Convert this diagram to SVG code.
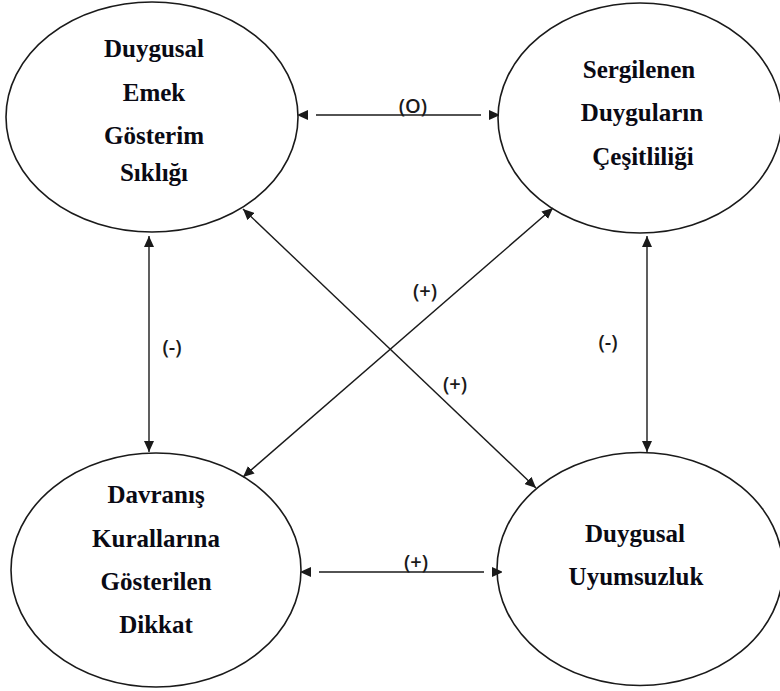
<svg xmlns="http://www.w3.org/2000/svg" width="780" height="691" viewBox="0 0 780 691">
<defs>
<style>
.node ellipse{fill:#fff;stroke:#1a1a1a;stroke-width:1.6}
.node text{font-family:'Liberation Serif','Times New Roman',serif;font-weight:bold;font-size:25px;fill:#0a0a14;text-anchor:middle}
.conn line{stroke:#1a1a1a;stroke-width:1.4}
.lbl{font-family:'Open Sans','DejaVu Sans',sans-serif;font-weight:600;font-size:20px;fill:#1a1a1a;text-anchor:middle}
</style>
<marker id="ah" markerUnits="userSpaceOnUse" markerWidth="11" markerHeight="10" viewBox="0 0 11 10" refX="11" refY="5" orient="auto-start-reverse">
<path d="M0,0 L11,5 L0,10 z" fill="#1a1a1a"/>
</marker>
<marker id="ahg" markerUnits="userSpaceOnUse" markerWidth="30" markerHeight="10" viewBox="-20 0 30 10" refX="-8" refY="5" orient="auto-start-reverse">
<path d="M0,0 L11,5 L0,10 z" fill="#1a1a1a"/>
</marker>
</defs>
<rect width="780" height="691" fill="#fff"/>
<g id="n1" class="node" font-family="Liberation Serif, serif">
<ellipse cx="152" cy="117" rx="146" ry="115"/>
<text x="154" y="57">Duygusal</text>
<text x="154" y="101">Emek</text>
<text x="154" y="144">Gösterim</text>
<text x="154" y="181">Sıklığı</text>
</g>
<g id="n2" class="node" font-family="Liberation Serif, serif">
<ellipse cx="640" cy="118" rx="142" ry="115"/>
<text x="639" y="78">Sergilenen</text>
<text x="642" y="121">Duyguların</text>
<text x="643" y="165">Çeşitliliği</text>
</g>
<g id="n3" class="node" font-family="Liberation Serif, serif">
<ellipse cx="156" cy="570" rx="145" ry="117"/>
<text x="156" y="503">Davranış</text>
<text x="156" y="547">Kurallarına</text>
<text x="156" y="590">Gösterilen</text>
<text x="156" y="633">Dikkat</text>
</g>
<g id="n4" class="node" font-family="Liberation Serif, serif">
<ellipse cx="640" cy="569" rx="143" ry="116.5"/>
<text x="635" y="542">Duygusal</text>
<text x="636" y="585">Uyumsuzluk</text>
</g>
<g id="connectors" class="conn">
<line x1="316" y1="115" x2="481" y2="115" marker-start="url(#ahg)" marker-end="url(#ahg)"/>
<line x1="319" y1="572" x2="484" y2="572" marker-start="url(#ahg)" marker-end="url(#ahg)"/>
<line x1="149" y1="236" x2="149" y2="452" marker-start="url(#ah)" marker-end="url(#ah)"/>
<line x1="647" y1="236" x2="647" y2="452" marker-start="url(#ah)" marker-end="url(#ah)"/>
<line x1="243" y1="209" x2="536" y2="488" marker-start="url(#ah)" marker-end="url(#ah)"/>
<line x1="553" y1="208" x2="243" y2="477" marker-start="url(#ah)" marker-end="url(#ah)"/>
</g>
<g id="labels">
<text class="lbl" x="413" y="113">(O)</text>
<text class="lbl" x="416" y="569">(+)</text>
<text class="lbl" x="172" y="354">(-)</text>
<text class="lbl" x="608" y="349">(-)</text>
<text class="lbl" x="425" y="298">(+)</text>
<text class="lbl" x="455" y="391">(+)</text>
</g>
</svg>
